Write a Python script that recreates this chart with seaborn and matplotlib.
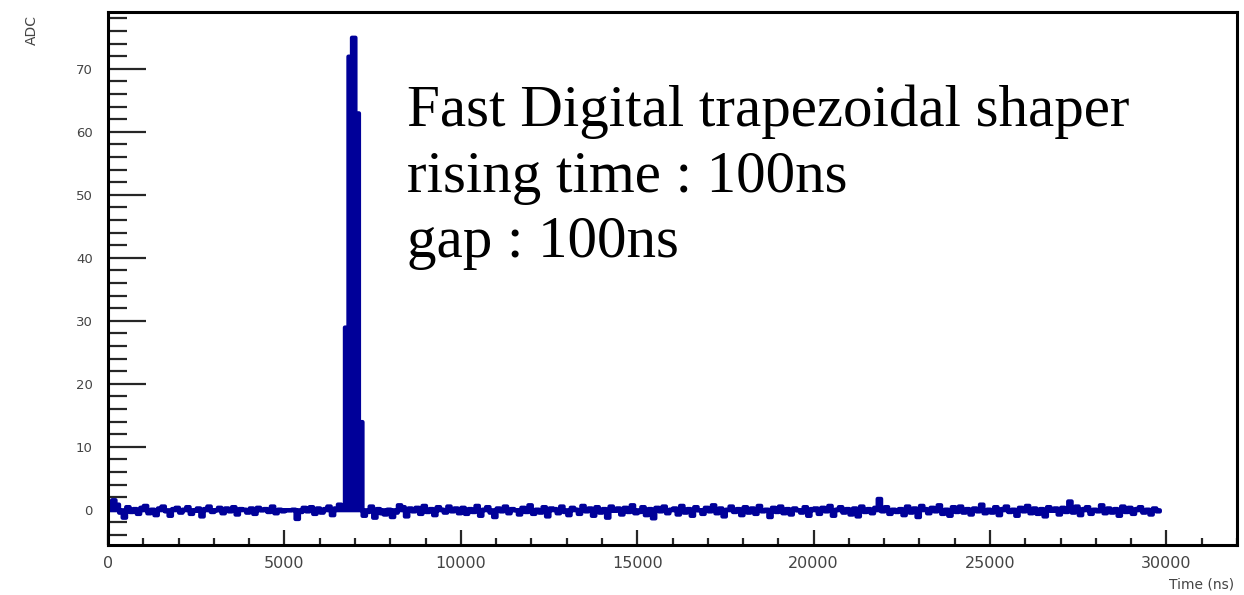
# Trapezoidal shaper output - ROOT style histogram redrawn with seaborn
import numpy as np
import pandas as pd
import matplotlib
matplotlib.use("Agg")
import matplotlib.pyplot as plt
from matplotlib.ticker import MultipleLocator
import seaborn as sns

# bin width 100 ns, first bin starts at 0
bin_width = 100

# ADC per bin (5000 ns per row)
adc_0 = [0.3, 1.6, 0.9, -0.4, -1.2, 0.5, -0.3, 0.2, -0.6, 0.4,
         0.7, -0.5, 0.1, -0.8, 0.3, 0.6, -0.2, -0.9, 0.2, 0.4,
         -0.4, 0.1, 0.5, -0.6, -0.1, 0.3, -1.0, 0.2, 0.6, -0.3,
         0.0, 0.4, -0.5, 0.3, -0.2, 0.5, -0.7, 0.2, 0.1, -0.4,
         0.3, -0.6, 0.4, 0.0, 0.2, -0.3, 0.6, -0.5, 0.1, -0.2]
adc_5000 = [0.0, 0.0, 0.1, -1.4, -0.3, 0.4, -0.2, 0.5, -0.6, 0.3,
            -0.4, 0.2, 0.6, -0.8, 0.3, 0.9, 0.4, 29, 72, 75,
            63, 14, -0.9, -0.3, 0.6, -1.2, 0.2, -0.5, -0.7, 0.1,
            -1.1, -0.4, 0.8, 0.5, -1.0, 0.3, -0.2, 0.4, -0.6, 0.7,
            -0.3, 0.2, -0.8, 0.5, 0.1, -0.4, 0.6, -0.2, 0.3, -0.5]
adc_10000 = [0.4, -0.6, 0.2, -0.3, 0.7, -0.9, 0.1, 0.5, -0.4, -1.1,
             0.3, -0.2, 0.6, -0.5, 0.2, 0.0, -0.7, 0.4, -0.3, 0.8,
             -0.6, 0.1, -0.4, 0.5, -1.0, 0.3, 0.2, -0.5, 0.6, -0.3,
             -0.8, 0.4, 0.1, -0.6, 0.7, -0.2, 0.3, -0.9, 0.5, -0.4,
             0.2, -1.2, 0.6, -0.1, 0.3, -0.7, 0.4, -0.3, 0.8, -0.5]
adc_15000 = [-0.3, 0.5, -0.8, 0.2, -1.3, 0.4, -0.2, 0.6, -0.5, 0.1,
             0.3, -0.7, 0.7, -0.4, 0.2, -0.9, 0.5, 0.0, -0.6, 0.4,
             -0.2, 0.8, -0.5, 0.3, -1.0, 0.1, 0.6, -0.3, 0.2, -0.8,
             0.5, -0.4, 0.3, -0.6, 0.7, -0.2, 0.1, -1.1, 0.4, -0.3,
             0.6, -0.5, 0.2, -0.7, 0.3, 0.0, -0.4, 0.5, -0.9, 0.2]
adc_20000 = [0.3, -0.6, 0.4, -0.2, 0.7, -0.9, 0.1, 0.5, -0.4, 0.2,
             -0.7, 0.3, -1.0, 0.6, -0.3, 0.2, -0.5, 0.4, 1.8, -0.2,
             0.5, -0.6, 0.1, -0.3, 0.2, -0.8, 0.6, -0.4, 0.3, -1.1,
             0.7, 0.2, -0.5, 0.4, -0.2, 0.8, -0.6, 0.1, -0.9, 0.5,
             -0.3, 0.6, -0.4, 0.2, -0.7, 0.3, -0.2, 0.9, -0.5, 0.1]
adc_25000 = [-0.4, 0.5, -0.8, 0.2, 0.6, -0.3, 0.1, -0.9, 0.4, -0.2,
             0.7, -0.5, 0.3, -0.6, 0.2, -1.0, 0.5, -0.1, 0.3, -0.7,
             0.4, -0.3, 1.4, -0.4, 0.6, -0.8, 0.2, 0.5, -0.6, 0.1,
             -0.2, 0.8, -0.5, 0.3, -0.4, 0.2, -0.9, 0.6, -0.3, 0.4,
             -0.6, 0.2, 0.5, -0.4, 0.1, -0.7, 0.3, -0.2]

adc = adc_0 + adc_5000 + adc_10000 + adc_15000 + adc_20000 + adc_25000
t_max = len(adc) * bin_width
tableau = pd.DataFrame({"time": np.arange(len(adc)) * bin_width + bin_width / 2,
                        "adc": adc})

label_text = "Fast Digital trapezoidal shaper\nrising time : 100ns\ngap : 100ns"

sns.set_style("white")

fig = plt.figure(figsize=(12.44, 5.95), dpi=100)
ax = fig.add_axes([108 / 1244, 50 / 595, 1129 / 1244, 533 / 595])

sns.histplot(data=tableau, x="time", weights="adc", binwidth=bin_width,
             binrange=(0, t_max), element="step", fill=True, color="#000099",
             alpha=1, linewidth=3, edgecolor="#000099", ax=ax)

ax.set_xlim(0, 32000)
ax.set_ylim(-5.6, 79)
ax.set_xlabel("")
ax.set_ylabel("")

# ROOT style ticks, pointing inwards
ax.xaxis.set_major_locator(MultipleLocator(5000))
ax.xaxis.set_minor_locator(MultipleLocator(1000))
ax.yaxis.set_major_locator(MultipleLocator(10))
ax.yaxis.set_minor_locator(MultipleLocator(2))
ax.tick_params(axis="x", which="major", direction="in", length=11, width=1.6,
               pad=8, labelsize=11.5, labelcolor="#444444", top=False, bottom=True)
ax.tick_params(axis="x", which="minor", direction="in", length=5, width=1.6,
               top=False, bottom=True)
ax.tick_params(axis="y", which="major", direction="in", length=27, width=1.6,
               pad=11, labelsize=9.5, labelcolor="#444444", right=False, left=True)
ax.tick_params(axis="y", which="minor", direction="in", length=14, width=1.6,
               right=False, left=True)
for side in ax.spines.values():
    side.set_visible(True)
    side.set_linewidth(2.2)
    side.set_color("black")

fig.text(32 / 1244, 1 - 30 / 595, "ADC", rotation=90, ha="center", va="center",
         fontsize=10, color="#444444")
fig.text(1234 / 1244, 1 - 584 / 595, "Time (ns)", ha="right", va="center",
         fontsize=10, color="#444444")

ax.text(407 / 1244, 1 - 85 / 595, label_text, transform=fig.transFigure,
        ha="left", va="top", fontsize=42.5, family="Liberation Serif",
        linespacing=1.28, color="black")

fig.savefig("out.png", dpi=100)
